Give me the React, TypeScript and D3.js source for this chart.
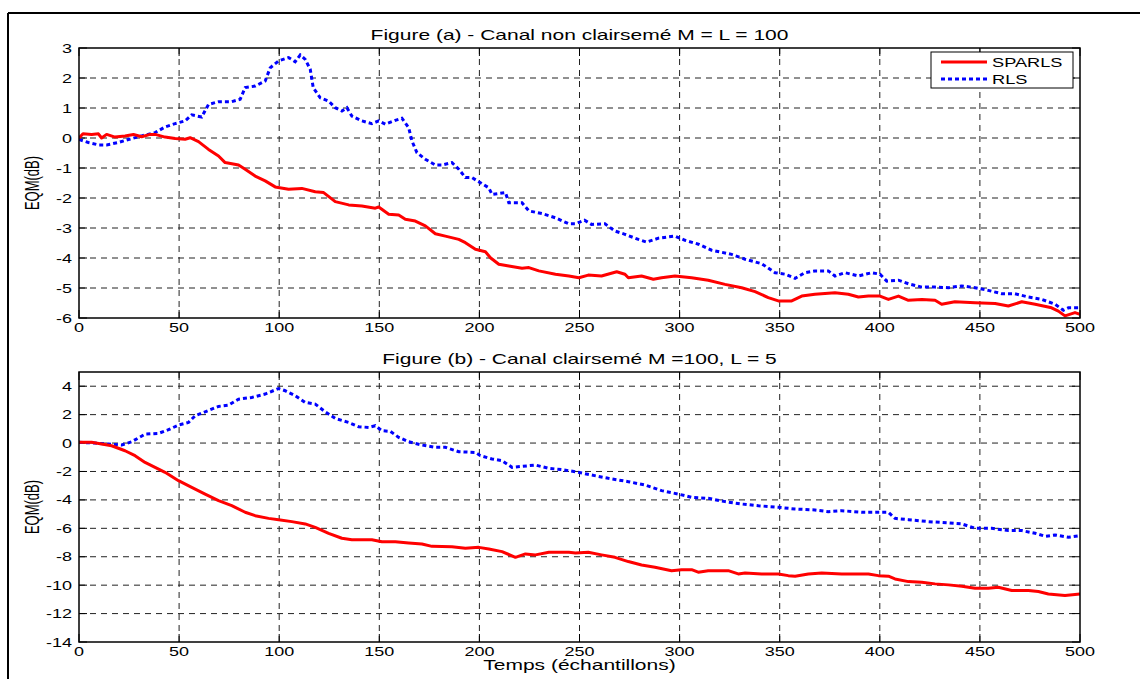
import React from "react";
import * as d3 from "d3";

const timeTicks = [0, 50, 100, 150, 200, 250, 300, 350, 400, 450, 500];
const eqmTicksA = [-6, -5, -4, -3, -2, -1, 0, 1, 2, 3];
const eqmTicksB = [-14, -12, -10, -8, -6, -4, -2, 0, 2, 4];

const titleA = "Figure (a) - Canal non clairsemé M = L = 100";
const titleB = "Figure (b) - Canal clairsemé M =100, L = 5";
const xLabel = "Temps (échantillons)";
const yLabel = "EQM(dB)";
const seriesNames = ["SPARLS", "RLS"];

const sparlsA: [number, number][] = [
  [0, 0], [2, 0.14], [6.3, 0.12], [9.7, 0.14], [11.3, 0], [13.8, 0.12], [18, 0.03], [23, 0.07],
  [27.2, 0.12], [31.3, 0.04], [35.5, 0.12], [38, 0.12], [43, 0.03], [48, -0.02], [53, -0.04],
  [55.5, 0.01], [59.7, -0.12], [64.7, -0.38], [69.7, -0.6], [73, -0.82], [79.7, -0.9], [83, -1.04],
  [88, -1.27], [93, -1.43], [98, -1.63], [104.7, -1.71], [111.3, -1.68], [118, -1.79], [122.2, -1.82],
  [128, -2.12], [134.7, -2.23], [141.3, -2.27], [148, -2.34], [149.7, -2.3], [154.7, -2.54],
  [159.7, -2.57], [163, -2.71], [168, -2.77], [173, -2.93], [178, -3.19], [183, -3.27], [189.7, -3.38],
  [193, -3.49], [198, -3.71], [203, -3.79], [205.5, -3.99], [209.7, -4.21], [214.7, -4.27],
  [221.3, -4.34], [224.7, -4.32], [229.7, -4.43], [238, -4.54], [244.7, -4.6], [249.7, -4.66],
  [254.4, -4.57], [261, -4.6], [268.6, -4.46], [272.7, -4.54], [274.4, -4.66], [281, -4.6],
  [286.9, -4.71], [291, -4.66], [297.7, -4.6], [306, -4.66], [314.3, -4.74], [322.7, -4.88],
  [331, -4.99], [337.7, -5.12], [344.3, -5.32], [349.3, -5.43], [356, -5.43], [361, -5.27],
  [367.6, -5.21], [377.6, -5.16], [384.3, -5.21], [389.3, -5.3], [394.3, -5.27], [400.1, -5.27],
  [404.3, -5.38], [409.3, -5.27], [414.3, -5.41], [421, -5.38], [427.6, -5.41], [430.9, -5.54],
  [437.5, -5.46], [447.6, -5.49], [457.6, -5.52], [464.2, -5.6], [470.9, -5.46], [477.6, -5.54],
  [485.8, -5.66], [489.2, -5.77], [492.5, -5.93], [497.5, -5.82], [500, -5.88],
];

const rlsA: [number, number][] = [
  [0, -0.05], [4.7, -0.15], [9.7, -0.23], [13.8, -0.23], [19.7, -0.15], [24.7, -0.05], [31.3, 0.07],
  [38, 0.18], [43, 0.37], [48, 0.48], [53, 0.57], [56.3, 0.77], [61.3, 0.7], [64.7, 1.12],
  [69.7, 1.21], [76.3, 1.21], [80.5, 1.29], [83, 1.68], [88, 1.73], [93, 1.9], [95.5, 2.34],
  [99.7, 2.57], [104.7, 2.68], [108, 2.54], [110.5, 2.77], [113, 2.62], [115.5, 2.29], [117, 1.68],
  [120.5, 1.34], [124.7, 1.23], [128, 1.01], [131.3, 0.9], [133.8, 1.01], [136.3, 0.73],
  [141.3, 0.57], [146.3, 0.48], [149.7, 0.57], [153, 0.46], [158, 0.59], [161.3, 0.66],
  [164.7, 0.34], [166.3, -0.1], [168.8, -0.49], [173, -0.71], [178, -0.9], [181.3, -0.9],
  [186.3, -0.82], [189.7, -1.04], [193, -1.32], [196.3, -1.32], [200.5, -1.49], [204.7, -1.66],
  [206.3, -1.88], [213, -1.82], [214.7, -2.16], [221.3, -2.16], [224.7, -2.43], [231.3, -2.52],
  [238, -2.66], [244.7, -2.86], [248, -2.86], [252.5, -2.74], [256, -2.88], [262.7, -2.86],
  [267.7, -3.1], [272.7, -3.21], [279.4, -3.38], [283.5, -3.47], [289.4, -3.34], [297.7, -3.27],
  [302.7, -3.41], [309.4, -3.54], [316, -3.74], [326, -3.88], [332.7, -4.04], [341, -4.19],
  [347.7, -4.49], [352.7, -4.54], [357.7, -4.68], [362.6, -4.49], [367.6, -4.43], [374.3, -4.43],
  [377.6, -4.6], [382.6, -4.49], [389.3, -4.6], [396, -4.49], [400.1, -4.54], [403.5, -4.77],
  [409.3, -4.74], [414.3, -4.86], [421, -4.97], [427.6, -4.97], [434.2, -4.99], [440.9, -4.93],
  [447.6, -4.99], [454.2, -5.08], [460.9, -5.19], [467.5, -5.19], [474.2, -5.3], [480.9, -5.38],
  [487.5, -5.54], [491.7, -5.74], [494.2, -5.66], [500, -5.66],
];

const sparlsB: [number, number][] = [
  [0, 0.05], [6.3, 0.05], [11.3, -0.07], [16.3, -0.19], [23, -0.54], [28, -0.89], [33, -1.36],
  [38, -1.71], [43, -2.06], [49.7, -2.65], [56.3, -3.12], [63, -3.59], [69.7, -4.05], [76.3, -4.41],
  [83, -4.87], [88, -5.11], [94.7, -5.3], [99.7, -5.39], [106.3, -5.53], [113, -5.69], [118, -5.93],
  [124.7, -6.35], [131.3, -6.7], [136.3, -6.8], [146.3, -6.8], [151.3, -6.94], [158, -6.94],
  [164.7, -7.03], [171.3, -7.1], [176.3, -7.27], [186.3, -7.29], [193, -7.41], [199.7, -7.34],
  [204.7, -7.45], [211.3, -7.64], [218, -8.04], [223, -7.8], [228, -7.87], [234.7, -7.69],
  [244.7, -7.69], [248, -7.73], [254.4, -7.69], [261, -7.87], [267.7, -8.04], [274.4, -8.34],
  [281, -8.58], [287.7, -8.74], [296, -8.98], [301, -8.91], [306, -8.91], [309.3, -9.09],
  [314.3, -8.98], [324.3, -8.98], [329.3, -9.21], [332.7, -9.14], [341, -9.21], [349.3, -9.21],
  [354.3, -9.33], [357.7, -9.37], [364.3, -9.21], [371, -9.14], [381, -9.21], [394.3, -9.21],
  [399.3, -9.33], [404.3, -9.37], [407.6, -9.56], [414.3, -9.75], [421, -9.8], [427.6, -9.91],
  [434.3, -9.98], [441, -10.08], [447.6, -10.22], [454.2, -10.22], [459.2, -10.15], [465.9, -10.38],
  [474.2, -10.38], [479.2, -10.45], [484.2, -10.62], [492.5, -10.73], [500, -10.62],
];

const rlsB: [number, number][] = [
  [0, 0.05], [8, 0], [14.7, -0.07], [21.3, -0.14], [26.3, 0.09], [33, 0.63], [39.7, 0.68],
  [44.7, 0.94], [49.7, 1.27], [54.7, 1.45], [58, 1.92], [63, 2.2], [69.7, 2.58], [74.7, 2.67],
  [79.7, 3.09], [86.3, 3.21], [93, 3.45], [99.7, 3.84], [103, 3.68], [108, 3.33], [113, 2.86],
  [118, 2.74], [123, 2.2], [128, 1.73], [134.7, 1.45], [139.7, 1.15], [144.7, 1.1], [148, 1.22],
  [151.3, 0.87], [155.5, 0.82], [159.7, 0.4], [164.7, 0.09], [171.3, -0.14], [178, -0.3],
  [183, -0.3], [189.7, -0.61], [198, -0.66], [200.5, -0.89], [206.3, -1.12], [211.3, -1.24],
  [216.3, -1.71], [221.3, -1.64], [228, -1.55], [234.7, -1.78], [241.3, -1.87], [248, -2.02],
  [256, -2.25], [264.4, -2.48], [274.4, -2.72], [282.7, -2.95], [291, -3.35], [299.4, -3.59],
  [306, -3.82], [314.3, -3.89], [322.7, -4.12], [331, -4.29], [339.4, -4.41], [349.3, -4.52],
  [357.6, -4.64], [367.6, -4.71], [374.3, -4.83], [381, -4.76], [391, -4.87], [404.3, -4.87],
  [407.6, -5.3], [414.3, -5.39], [424.3, -5.53], [434.3, -5.62], [441, -5.69], [447.6, -6.0],
  [455.9, -6.0], [464.2, -6.16], [470.9, -6.16], [477.6, -6.35], [482.6, -6.56], [487.5, -6.47],
  [494.2, -6.63], [500, -6.52],
];

const FONT = "'Liberation Sans', Arial, Helvetica, sans-serif";
const SX = 1.5;
const LEFT = 79;
const RIGHT = 1080;

function StretchText(props: {
  x: number; y: number; size: number; anchor?: string; children: string; sx?: number; rotate?: boolean;
}) {
  const { x, y, size, anchor = "start", children, sx = SX, rotate = false } = props;
  return (
    <text
      transform={`translate(${x},${y}) scale(${sx},1)${rotate ? " rotate(-90)" : ""}`}
      fontFamily={FONT}
      fontSize={size}
      textAnchor={anchor}
      fill="#000"
    >
      {children}
    </text>
  );
}

function Panel(props: {
  top: number; bottom: number; domain: [number, number]; yTicks: number[];
  sparls: [number, number][]; rls: [number, number][]; title: string; legend: boolean;
}) {
  const { top, bottom, domain, yTicks, sparls, rls, title, legend } = props;
  const x = d3.scaleLinear().domain([0, 500]).range([LEFT, RIGHT]);
  const y = d3.scaleLinear().domain(domain).range([bottom, top]);
  const line = d3
    .line<[number, number]>()
    .x((d) => x(d[0]))
    .y((d) => y(d[1]));
  const clipId = `clip${top}`;
  const tickLen = 8;
  return (
    <g>
      <defs>
        <clipPath id={clipId}>
          <rect x={LEFT} y={top} width={RIGHT - LEFT} height={bottom - top} />
        </clipPath>
      </defs>
      <rect x={LEFT} y={top} width={RIGHT - LEFT} height={bottom - top} fill="#fff" />
      {/* grid */}
      {timeTicks.slice(1, -1).map((t) => (
        <line key={"gx" + t} x1={x(t)} x2={x(t)} y1={top} y2={bottom} stroke="#222" strokeWidth={1} strokeDasharray="6,5" />
      ))}
      {yTicks.filter((t) => t !== domain[0] && t !== domain[1]).map((t) => (
        <line key={"gy" + t} x1={LEFT} x2={RIGHT} y1={y(t)} y2={y(t)} stroke="#222" strokeWidth={1} strokeDasharray="6,5" />
      ))}
      {/* ticks */}
      {timeTicks.map((t) => (
        <g key={"tx" + t}>
          <line x1={x(t)} x2={x(t)} y1={bottom} y2={bottom - tickLen} stroke="#000" strokeWidth={1} />
          <line x1={x(t)} x2={x(t)} y1={top} y2={top + tickLen} stroke="#000" strokeWidth={1} />
          <StretchText x={x(t)} y={bottom + 14} size={12} anchor="middle">{String(t)}</StretchText>
        </g>
      ))}
      {yTicks.map((t) => (
        <g key={"ty" + t}>
          <line x1={LEFT} x2={LEFT + tickLen} y1={y(t)} y2={y(t)} stroke="#000" strokeWidth={1} />
          <line x1={RIGHT} x2={RIGHT - tickLen} y1={y(t)} y2={y(t)} stroke="#000" strokeWidth={1} />
          <StretchText x={LEFT - 7} y={y(t) + 4.5} size={12} anchor="end">{String(t)}</StretchText>
        </g>
      ))}
      {/* series */}
      <g clipPath={`url(#${clipId})`}>
        <path d={line(rls) || ""} fill="none" stroke="#0000ff" strokeWidth={3} strokeDasharray="4,3" />
        <path d={line(sparls) || ""} fill="none" stroke="#ff0000" strokeWidth={3} strokeLinejoin="round" />
      </g>
      <rect x={LEFT} y={top} width={RIGHT - LEFT} height={bottom - top} fill="none" stroke="#000" strokeWidth={1.5} />
      {/* title */}
      <StretchText x={(LEFT + RIGHT) / 2} y={top - 8} size={14} anchor="middle">{title}</StretchText>
      {/* y label */}
      <StretchText x={39} y={(top + bottom) / 2} size={13} anchor="middle" rotate>{yLabel}</StretchText>
      {legend && (
        <g>
          <rect x={931} y={52} width={142} height={36} fill="#fff" stroke="#000" strokeWidth={1} />
          <line x1={941} x2={987} y1={62} y2={62} stroke="#ff0000" strokeWidth={3} />
          <line x1={941} x2={987} y1={79} y2={79} stroke="#0000ff" strokeWidth={3} strokeDasharray="4,3" />
          <StretchText x={992} y={67} size={13} sx={1.4}>{seriesNames[0]}</StretchText>
          <StretchText x={992} y={84} size={13} sx={1.4}>{seriesNames[1]}</StretchText>
        </g>
      )}
    </g>
  );
}

export default function App() {
  return (
    <svg
      width={1140}
      height={679}
      style={{ position: "absolute", left: 0, top: 0, background: "#fff" }}
    >
      <rect x={0} y={0} width={1140} height={679} fill="#fff" />
      <line x1={8} x2={1140} y1={13} y2={13} stroke="#000" strokeWidth={2} />
      <line x1={8} x2={8} y1={13} y2={679} stroke="#000" strokeWidth={2} />
      <Panel top={48} bottom={318} domain={[-6, 3]} yTicks={eqmTicksA} sparls={sparlsA} rls={rlsA} title={titleA} legend={true} />
      <Panel top={372} bottom={642} domain={[-14, 5]} yTicks={eqmTicksB} sparls={sparlsB} rls={rlsB} title={titleB} legend={false} />
      <StretchText x={(LEFT + RIGHT) / 2} y={670} size={14} anchor="middle">{xLabel}</StretchText>
    </svg>
  );
}
